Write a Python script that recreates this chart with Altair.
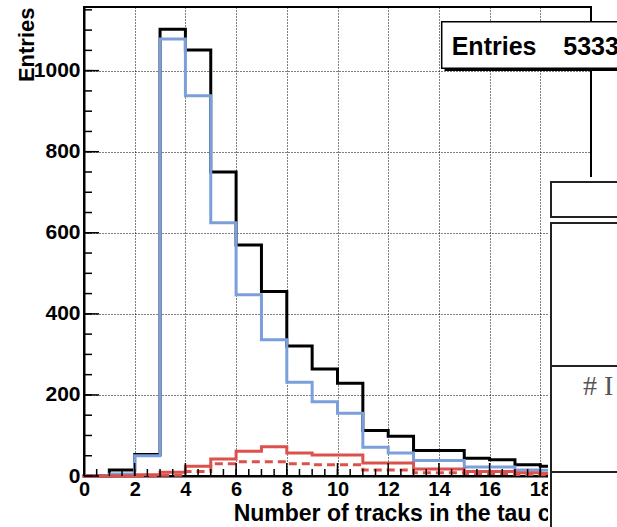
import altair as alt
import pandas as pd

# ---- data ----
edges = list(range(0, 21))
total = [0, 15, 53, 1102, 1051, 750, 570, 455, 321, 264, 229, 112, 98, 63, 63, 44, 40, 28, 24, 20]
sig = [0, 5, 50, 1078, 938, 625, 447, 336, 231, 183, 155, 71, 57, 38, 38, 22, 22, 15, 14, 10]
bkg = [0, 0, 3, 9, 24, 42, 61, 72, 57, 52, 52, 32, 32, 17, 17, 11, 11, 8, 6, 4]
bkg_dash = [0, 0, 0, 2, 11, 30, 35, 35, 30, 28, 28, 15, 15, 8, 8, 6, 6, 4, 3, 2]

x_major = [0, 2, 4, 6, 8, 10, 12, 14, 16, 18, 20]
x_minor = [i / 2 for i in range(41)]
y_major = [0, 200, 400, 600, 800, 1000]
y_minor = [50 * i for i in range(24)]

x_title = "Number of tracks in the tau cone"
y_title = "Entries"
stat_label = "Entries"
stat_value = "53331"
legend_text = "# I"

W, H = 507, 469
YMAX = 1157
FONT = "Liberation Sans"


def hist_df(vals):
    xs = edges[:len(vals)] + [edges[len(vals)]]
    ys = vals + [vals[-1]]
    return pd.DataFrame({"x": xs, "y": ys})


xscale = alt.Scale(domain=[0, 20], nice=False, zero=False)
yscale = alt.Scale(domain=[0, YMAX], nice=False, zero=False)

xaxis = alt.Axis(values=x_major, grid=True, gridColor="black", gridDash=[1, 2], gridWidth=1,
                 ticks=False, domain=True, domainColor="black", domainWidth=2,
                 labelFont=FONT, labelFontWeight="bold", labelFontSize=20, labelColor="black",
                 labelPadding=3, labelFlush=False, labelOverlap=False, format="d",
                 title=x_title, titleFont=FONT, titleFontSize=23, titleFontWeight="bold",
                 titleColor="black", titleAlign="right", titleX=W, titleY=44,
                 titleBaseline="alphabetic")
yaxis = alt.Axis(values=y_major, grid=True, gridColor="black", gridDash=[1, 2], gridWidth=1,
                 ticks=False, domain=True, domainColor="black", domainWidth=2,
                 labelFont=FONT, labelFontWeight="bold", labelFontSize=21, labelColor="black",
                 labelPadding=4, labelOverlap=False, format="d",
                 title=y_title, titleFont=FONT, titleFontSize=22, titleFontWeight="bold",
                 titleColor="black", titleAngle=270, titleAlign="right", titleX=-51, titleY=0,
                 titleBaseline="alphabetic")


def hist_layer(vals, color, dash=None, first=False):
    kw = dict(interpolate="step-after", color=color, strokeWidth=3,
              strokeJoin="miter", strokeCap="square")
    if dash:
        kw["strokeDash"] = dash
        kw["strokeCap"] = "butt"
    enc_x = alt.X("x:Q", scale=xscale, axis=xaxis) if first else alt.X("x:Q", scale=xscale)
    enc_y = alt.Y("y:Q", scale=yscale, axis=yaxis) if first else alt.Y("y:Q", scale=yscale)
    return alt.Chart(hist_df(vals)).mark_line(**kw).encode(x=enc_x, y=enc_y)


h_total = hist_layer(total, "#000000", first=True)
h_sig = hist_layer(sig, "#7B9FDB")
h_bkg = hist_layer(bkg, "#DB524C")
h_bkgd = hist_layer(bkg_dash, "#DB524C", dash=[8, 5])

xmaj = alt.Chart(pd.DataFrame({"x": x_major})).mark_rule(color="black", strokeWidth=1.5).encode(
    x=alt.X("x:Q", scale=xscale), y=alt.value(H), y2=alt.value(H - 13))
xmin = alt.Chart(pd.DataFrame({"x": x_minor})).mark_rule(color="black", strokeWidth=1.5).encode(
    x=alt.X("x:Q", scale=xscale), y=alt.value(H), y2=alt.value(H - 7))
ymaj = alt.Chart(pd.DataFrame({"y": y_major})).mark_rule(color="black", strokeWidth=1.5).encode(
    y=alt.Y("y:Q", scale=yscale), x=alt.value(0), x2=alt.value(15))
ymin = alt.Chart(pd.DataFrame({"y": y_minor})).mark_rule(color="black", strokeWidth=1.5).encode(
    y=alt.Y("y:Q", scale=yscale), x=alt.value(0), x2=alt.value(8))

one = pd.DataFrame({"a": [0]})

# white cover for the cut-off legend panels on the right
cover = alt.Chart(one).mark_rect(color="white", strokeWidth=0).encode(
    x=alt.value(464), x2=alt.value(540), y=alt.value(170), y2=alt.value(540))
box2 = alt.Chart(one).mark_rect(fill="white", stroke="#222222", strokeWidth=2).encode(
    x=alt.value(467), x2=alt.value(560), y=alt.value(175), y2=alt.value(210))
box3 = alt.Chart(one).mark_rect(fill="white", stroke="#222222", strokeWidth=2).encode(
    x=alt.value(467), x2=alt.value(560), y=alt.value(216), y2=alt.value(560))
div1 = alt.Chart(one).mark_rule(color="#222222", strokeWidth=2).encode(
    x=alt.value(467), x2=alt.value(560), y=alt.value(359))
div2 = alt.Chart(one).mark_rule(color="#222222", strokeWidth=2).encode(
    x=alt.value(467), x2=alt.value(560), y=alt.value(465))
leg_txt = alt.Chart(one).mark_text(font="Liberation Serif", fontSize=28, color="#555555",
                                   align="left", baseline="alphabetic").encode(
    x=alt.value(499), y=alt.value(388), text=alt.value(legend_text))

# stats box
shadow = alt.Chart(one).mark_rect(color="black").encode(
    x=alt.value(360.5), x2=alt.value(560), y=alt.value(17.5), y2=alt.value(64))
statbox = alt.Chart(one).mark_rect(fill="white", stroke="black", strokeWidth=1.5).encode(
    x=alt.value(357.7), x2=alt.value(560), y=alt.value(14.7), y2=alt.value(61.3))
stat_t1 = alt.Chart(one).mark_text(font=FONT, fontWeight="bold", fontSize=25, color="black",
                                   align="left", baseline="alphabetic").encode(
    x=alt.value(367.7), y=alt.value(48), text=alt.value(stat_label))
stat_t2 = alt.Chart(one).mark_text(font=FONT, fontWeight="bold", fontSize=25, color="black",
                                   align="left", baseline="alphabetic").encode(
    x=alt.value(479.3), y=alt.value(48), text=alt.value(stat_value))

chart = alt.layer(
    h_total, h_sig, h_bkg, h_bkgd, xmaj, xmin, ymaj, ymin,
    cover, box2, box3, div1, div2, leg_txt, shadow, statbox, stat_t1, stat_t2
).properties(
    width=W, height=H,
    padding={"left": 84, "top": 7, "right": 26, "bottom": 51},
    autosize=alt.AutoSizeParams(type="none"),
    background="white",
).configure_view(stroke="black", strokeWidth=2)

chart.save("out.html", embed_options={"renderer": "svg", "actions": False})
